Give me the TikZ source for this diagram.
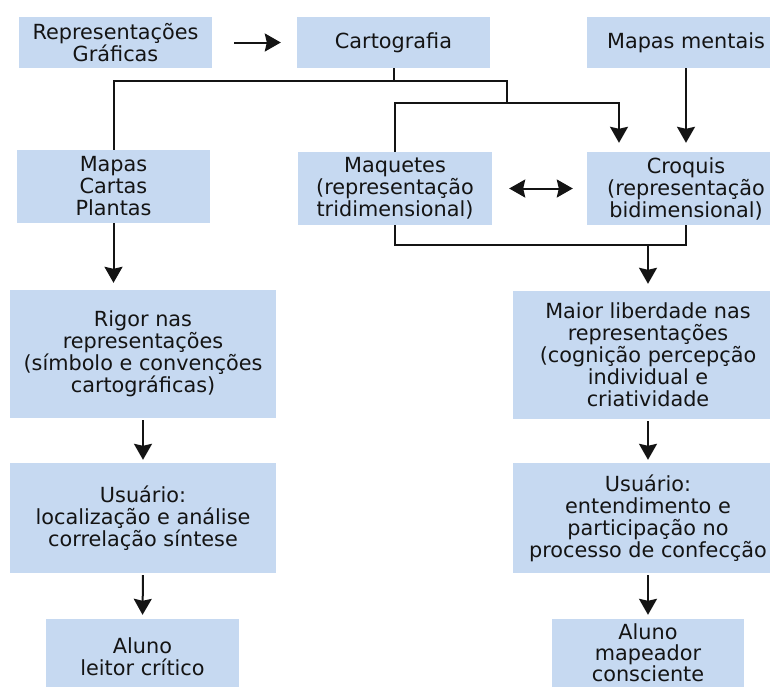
\documentclass[tikz,border=0pt]{standalone}
\usepackage{fontspec}
\setmainfont{DejaVu Sans}
\usetikzlibrary{arrows.meta}
\definecolor{boxblue}{RGB}{198,217,241}
\definecolor{ink}{RGB}{20,20,20}
\begin{document}
\begin{tikzpicture}[x=1pt,y=-1pt,
  box/.style={fill=boxblue, draw=none, align=center, inner sep=0pt, text=ink, font=\fontsize{20.8}{22}\selectfont},
  conn/.style={line width=2pt, line join=miter, draw=ink},
  tip/.tip={Stealth[length=16pt,width=18pt,inset=2pt]},
  arr/.style={conn, -tip}]
\useasboundingbox (0,0) rectangle (770,686);
\clip (0,0) rectangle (770,686);
% boxes
\node[box, minimum width=193pt, minimum height=51pt] (rep) at (115.5,42.5) {Representações\\Gráficas};
\node[box, minimum width=193pt, minimum height=51pt] (carto) at (393.5,42.5) {Cartografia};
\node[box, minimum width=198pt, minimum height=51pt] (mm) at (686,42.5) {Mapas mentais};
\node[box, minimum width=193pt, minimum height=73pt] (mapas) at (113.5,186.5) {Mapas\\Cartas\\Plantas};
\node[box, minimum width=194pt, minimum height=73pt] (maq) at (395,188.5) {Maquetes\\(representação\\tridimensional)};
\node[box, minimum width=198pt, minimum height=73pt] (croq) at (686,188.5) {Croquis\\(representação\\bidimensional)};
\node[box, minimum width=266pt, minimum height=128pt] (rigor) at (143,354) {Rigor nas\\representações\\(símbolo e convenções\\cartográficas)};
\node[box, minimum width=270pt, minimum height=128pt] (maior) at (648,355) {Maior liberdade nas\\representações\\(cognição percepção\\individual e\\criatividade};
\node[box, minimum width=266pt, minimum height=110pt] (usuL) at (143,518) {Usuário:\\localização e análise\\correlação síntese};
\node[box, minimum width=270pt, minimum height=110pt] (usuR) at (648,518) {Usuário:\\entendimento e\\participação no\\processo de confecção};
\node[box, minimum width=193pt, minimum height=76pt] (alunoL) at (142.5,657) {Aluno\\leitor crítico};
\node[box, minimum width=192pt, minimum height=68pt, font=\fontsize{20.8}{21}\selectfont] (alunoR) at (648,653) {Aluno\\mapeador\\consciente};
% junctions
\coordinate (ja) at (393.5,81);
\coordinate (jb) at (507,81);
\coordinate (jc) at (507,103);
\coordinate (jd) at (648,245);
% connectors
\draw[arr] ([xshift=22pt]rep.east) -- ([xshift=-16pt]carto.west);
\draw[conn] (carto.south) -- (ja);
\draw[conn] (mapas.north) |- (jb) -- (jc);
\draw[arr, shorten >=9pt] (maq.north) |- (jc) -| ([xshift=-67pt]croq.north);
\draw[arr, shorten >=9pt] (mm.south) -- (croq.north);
\draw[tip-tip, conn] ([xshift=17pt]maq.east) -- ([xshift=-14pt]croq.west);
\draw[conn] (maq.south) -- ++(0,20) -| (croq.south);
\draw[arr, shorten >=7pt] (jd) -- (maior.north);
\draw[arr, shorten >=7pt] (mapas.south) -- (mapas.south |- rigor.north);
\draw[arr, shorten <=2pt, shorten >=3pt] (rigor.south) -- (usuL.north);
\draw[arr, shorten <=2pt, shorten >=4pt] (usuL.south) -- (alunoL.north);
\draw[arr, shorten <=2pt, shorten >=3pt] (maior.south) -- (usuR.north);
\draw[arr, shorten <=2pt, shorten >=4pt] (usuR.south) -- (alunoR.north);
\end{tikzpicture}
\end{document}
